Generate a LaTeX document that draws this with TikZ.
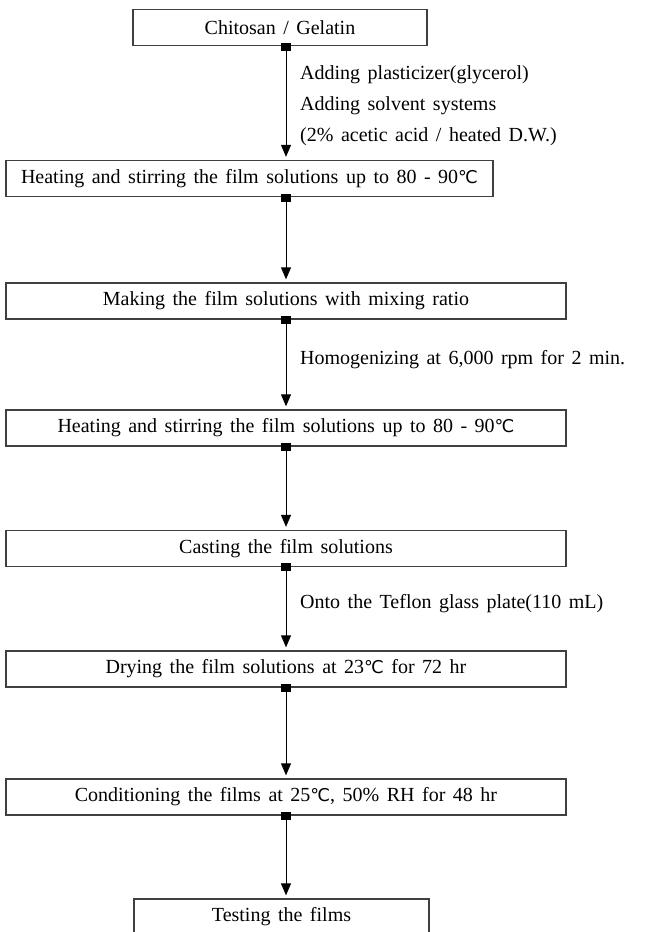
\documentclass[tikz,border=0pt]{standalone}
\usepackage{fontspec}
\setmainfont[WordSpace={1.5}]{Liberation Serif}
\newfontfamily\symfont[Scale=0.88]{DejaVu Sans}
\newcommand\degc{{\symfont\char"2103}}
\newcommand\flowfont{\fontsize{20}{31}\selectfont}
\usetikzlibrary{arrows.meta,positioning}

\begin{document}
\begin{tikzpicture}[x=1pt,y=-1pt,
 box/.style={draw=black!75,line width=1.3pt,minimum height=36pt,inner sep=0pt,font=\flowfont},
 knot/.style={fill=black,minimum width=10pt,minimum height=8pt,inner sep=0pt},
 arr/.style={-{Triangle[width=10pt,length=12pt]},line width=1pt,shorten >=3pt},
 note/.style={anchor=west,align=left,font=\flowfont,inner sep=0pt}]
 \useasboundingbox (0,0) rectangle (651,932);
 \node[box,minimum width=294pt] (chito) at (280,27.5) {Chitosan / Gelatin};
 \node[box,minimum width=487pt] (heat1) at (249.5,178.5) {Heating and stirring the film solutions up to 80 - 90\degc};
 \node[box,minimum width=560pt] (mix) at (286,301) {Making the film solutions with mixing ratio};
 \node[box,minimum width=560pt] (heat2) at (286,428) {Heating and stirring the film solutions up to 80 - 90\degc};
 \node[box,minimum width=560pt] (cast) at (286,548.5) {Casting the film solutions};
 \node[box,minimum width=560pt] (dry) at (286,669) {Drying the film solutions at 23\degc\ for 72 hr};
 \node[box,minimum width=560pt] (cond) at (286,797) {Conditioning the films at 25\degc, 50\% RH for 48 hr};
 \node[box,minimum width=295pt] (test) at (281.5,917) {Testing the films};
 \node[knot] (k1) at (286,47) {};
 \node[knot] (k2) at (286,198) {};
 \node[knot] (k3) at (286,320) {};
 \node[knot] (k4) at (286,447) {};
 \node[knot] (k5) at (286,567) {};
 \node[knot] (k6) at (286,688) {};
 \node[knot] (k7) at (286,816) {};
 \draw[arr] (k1)--(k1 |- heat1.north); \draw[arr] (k2)--(k2 |- mix.north);
 \draw[arr] (k3)--(k3 |- heat2.north); \draw[arr] (k4)--(k4 |- cast.north);
 \draw[arr] (k5)--(k5 |- dry.north); \draw[arr] (k6)--(k6 |- cond.north);
 \draw[arr] (k7)--(k7 |- test.north);
 \node[note] (add) at (300,106) {Adding plasticizer(glycerol)\\Adding solvent systems\\(2\% acetic acid / heated D.W.)};
 \node[note] (homo) at (300,360) {Homogenizing at 6,000 rpm for 2 min.};
 \node[note] (onto) at (300,604) {Onto the Teflon glass plate(110 mL)};
\end{tikzpicture}
\end{document}
